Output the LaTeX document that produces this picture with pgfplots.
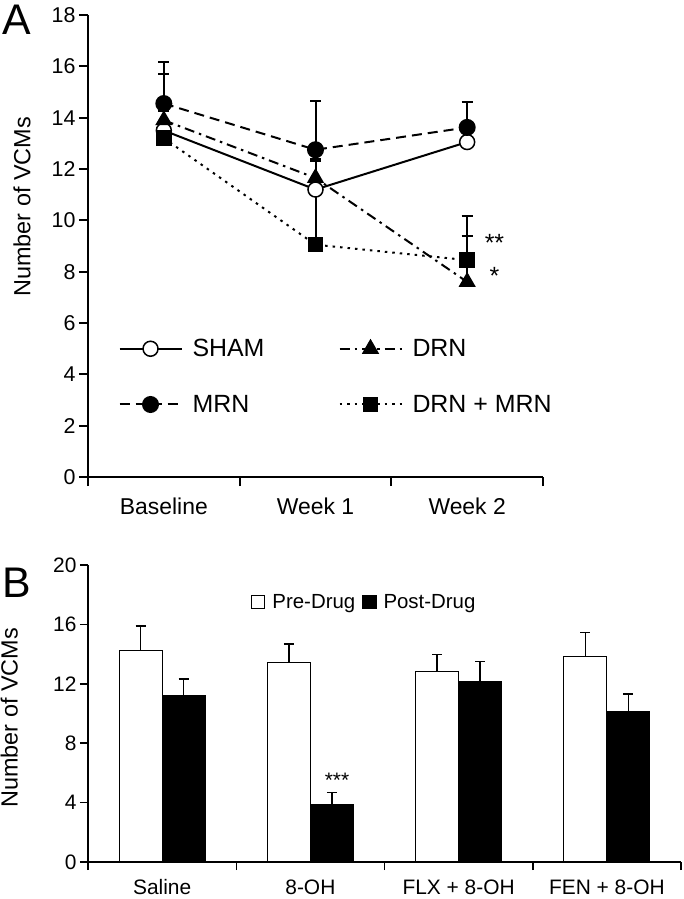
\documentclass[border=0pt]{standalone}
\usepackage{pgfplots}
\pgfplotsset{compat=1.18}
\usepackage{fontspec}
\setmainfont{Liberation Sans}

\begin{document}
\begin{tikzpicture}[x=1bp,y=1bp]
\useasboundingbox (-88bp,-422bp) rectangle (596bp,477bp);
% ---------------- Panel A ----------------
\begin{axis}[
  at={(0bp,0bp)}, anchor=south west,
  scale only axis, width=455bp, height=462bp,
  xmin=-0.5, xmax=2.5, ymin=0, ymax=18,
  /pgf/number format/assume math mode=true,
  axis x line*=bottom, axis y line*=left,
  axis line style={line width=2.2bp,-},
  xtick={-0.5,0.5,1.5,2.5}, x tick label as interval,
  xticklabels={Baseline,Week 1,Week 2},
  ytick={0,2,...,18},
  tick align=outside, major tick length=9bp,
  tick style={line width=2bp,black},
  tick label style={font=\fontsize{21.5}{25}\selectfont},
  x tick label style={font=\fontsize{23}{27}\selectfont, yshift=-8bp},
  ylabel={Number of VCMs},
  ylabel style={font=\fontsize{23.5}{28}\selectfont, at={(axis description cs:-0.145,0.585)}, anchor=center},
  clip=false,
  legend columns=2,
  legend cell align=left,
  legend style={draw=none, fill=none, at={(axis cs:-0.3,5.45)}, anchor=north west,
    font=\fontsize{25}{29}\selectfont, column sep=8bp, row sep=33bp, inner sep=0pt},
  legend image code/.code={\draw[mark repeat=2,mark phase=2,#1] plot coordinates {(0bp,0bp) (31bp,0bp) (62bp,0bp)};},
]
\addplot[black, line width=2bp, mark=*, mark size=7.5bp,
  mark options={solid, fill=white, line width=1.5bp},
  error bars/.cd, y dir=plus, y explicit,
  error bar style={line width=2bp, solid},
  error mark options={rotate=90, mark size=5.5bp, line width=2bp, solid}]
  coordinates {(0,13.5) +- (0,2.2) (1,11.2) +- (0,1.2) (2,13.05) +- (0,0.4)};
\addlegendentry{\makebox[136bp][l]{SHAM}}
\addplot[black, line width=2bp, dash pattern=on 10bp off 5bp on 2.5bp off 5bp,
  mark=triangle*, mark size=8bp,
  mark options={solid, fill=black},
  error bars/.cd, y dir=plus, y explicit,
  error bar style={line width=2bp, solid},
  error mark options={rotate=90, mark size=5.5bp, line width=2bp, solid}]
  coordinates {(0,13.9) +- (0,0.35) (1,11.65) +- (0,0.65) (2,7.6) +- (0,2.55)};
\addlegendentry{DRN}
\addplot[black, line width=2bp, dash pattern=on 10bp off 6bp,
  mark=*, mark size=7.5bp,
  mark options={solid, fill=black},
  error bars/.cd, y dir=plus, y explicit,
  error bar style={line width=2bp, solid},
  error mark options={rotate=90, mark size=5.5bp, line width=2bp, solid}]
  coordinates {(0,14.55) +- (0,1.6) (1,12.75) +- (0,1.9) (2,13.62) +- (0,1.0)};
\addlegendentry{\makebox[136bp][l]{MRN}}
\addplot[black, line width=2bp, dash pattern=on 2.5bp off 5bp,
  mark=square*, mark size=6.7bp,
  mark options={solid, fill=black},
  error bars/.cd, y dir=plus, y explicit,
  error bar style={line width=2bp, solid},
  error mark options={rotate=90, mark size=5.5bp, line width=2bp, solid}]
  coordinates {(0,13.2) +- (0,0.5) (1,9.05) +- (0,2.3) (2,8.45) +- (0,0.95)};
\addlegendentry{DRN + MRN}
\node[anchor=base, font=\fontsize{25}{29}\selectfont] at (axis cs:2.18,8.78) {**};
\node[anchor=base, font=\fontsize{25}{29}\selectfont] at (axis cs:2.18,7.5) {*};
\end{axis}
\node[anchor=north west, inner sep=0pt, font=\fontsize{43}{50}\selectfont] at (-86bp,472bp) {A};
% ---------------- Panel B ----------------
\begin{axis}[
  at={(0bp,-385bp)}, anchor=south west,
  scale only axis, width=593bp, height=297bp,
  xmin=-0.5, xmax=3.5, ymin=0, ymax=20,
  /pgf/number format/assume math mode=true,
  ybar=0pt, bar width=43bp,
  axis x line*=bottom, axis y line*=left,
  axis line style={line width=1.6bp,-},
  xtick={-0.5,0.5,1.5,2.5,3.5}, x tick label as interval,
  xticklabels={Saline,8-OH,FLX + 8-OH,FEN + 8-OH},
  ytick={0,4,...,20},
  tick align=outside, major tick length=8bp,
  tick style={line width=1.5bp,black},
  tick label style={font=\fontsize{21}{25}\selectfont},
  x tick label style={yshift=-6bp},
  ylabel={Number of VCMs},
  ylabel style={font=\fontsize{23.5}{28}\selectfont, at={(axis description cs:-0.133,0.485)}, anchor=center},
  clip=false,
  legend columns=2,
  legend style={draw=none, fill=none, at={(axis cs:0.6,17.5)}, anchor=west,
    font=\fontsize{20.5}{25}\selectfont, column sep=5bp, inner sep=0pt},
  legend image code/.code={\draw[#1, line width=1.2bp] (0bp,-6.5bp) rectangle (13bp,6.5bp);},
]
\addplot[fill=white, draw=black, line width=1.2bp,
  error bars/.cd, y dir=plus, y explicit,
  error bar style={line width=1.5bp},
  error mark options={rotate=90, mark size=5bp, line width=1.5bp}]
  coordinates {(0,14.24) +- (0,1.65) (1,13.42) +- (0,1.27) (2,12.84) +- (0,1.13) (3,13.83) +- (0,1.63)};
\addlegendentry{Pre-Drug\hspace{20bp}}
\addplot[fill=black, draw=black, line width=1.2bp,
  error bars/.cd, y dir=plus, y explicit,
  error bar style={line width=1.5bp},
  error mark options={rotate=90, mark size=5bp, line width=1.5bp}]
  coordinates {(0,11.23) +- (0,1.09) (1,3.84) +- (0,0.84) (2,12.18) +- (0,1.33) (3,10.12) +- (0,1.2)};
\addlegendentry{Post-Drug}
\node[anchor=base, font=\fontsize{21}{25}\selectfont] at (axis cs:1.18,5.04) {***};
\end{axis}
\node[anchor=north west, inner sep=0pt, font=\fontsize{43}{50}\selectfont] at (-86bp,-91bp) {B};
\end{tikzpicture}
\end{document}
